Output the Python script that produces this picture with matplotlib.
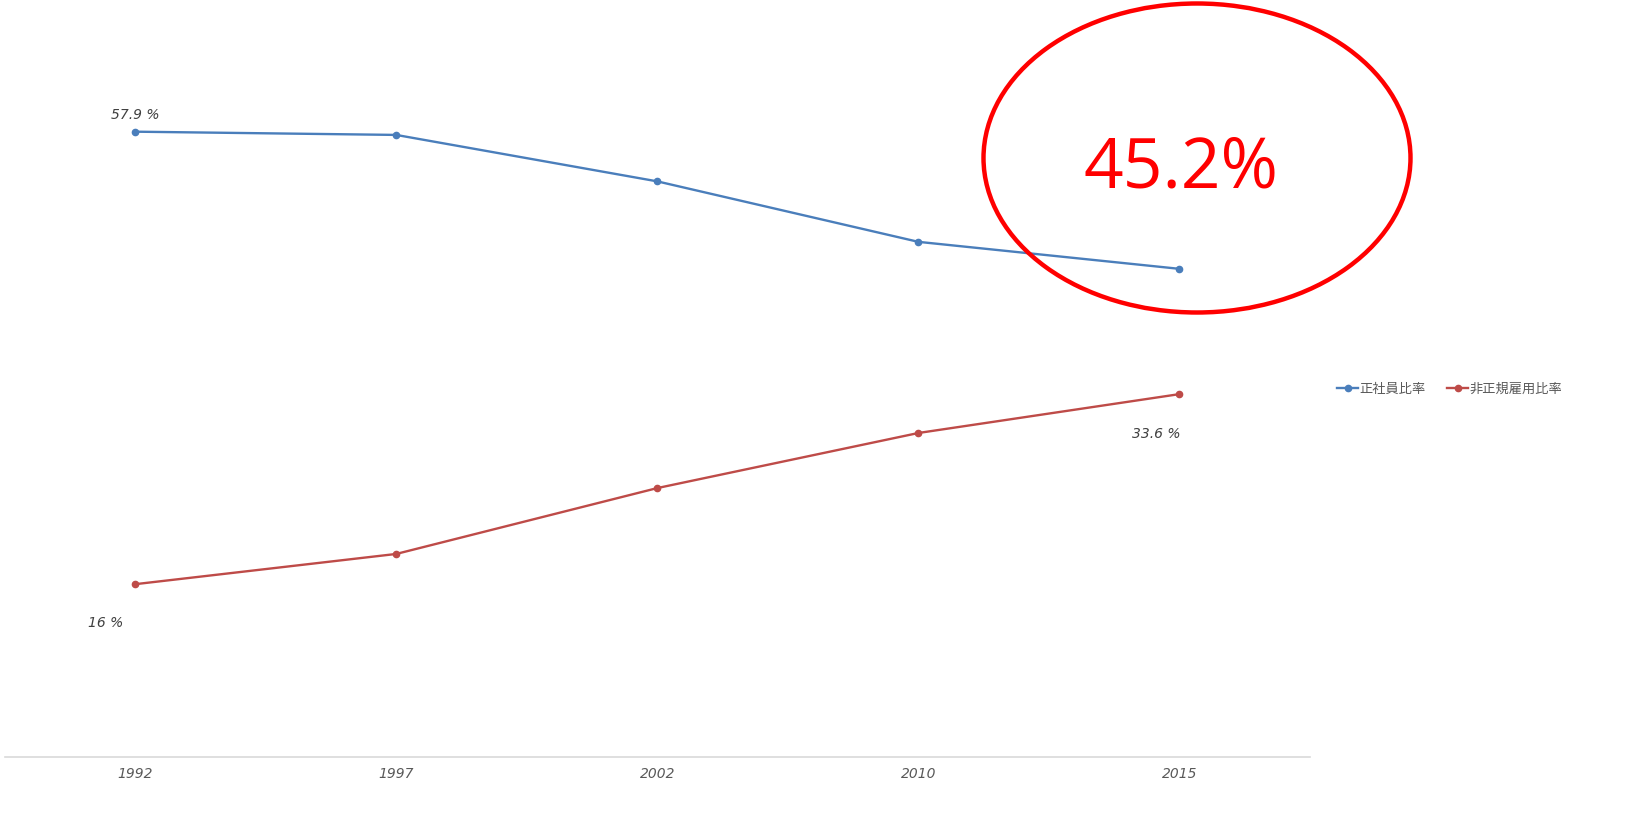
from matplotlib import pyplot as plt
from matplotlib.patches import Ellipse
import numpy as np

years = ["1992", "1997", "2002", "2010", "2015"]
regular = [57.9, 57.6, 53.3, 47.7, 45.2]
nonregular = [16.0, 18.8, 24.9, 30.0, 33.6]
series_names = ["正社員比率", "非正規雇用比率"]
highlight = "45.2%"

blue = "#4A7EBB"
red = "#BE4B48"
grey = "#595959"

plt.rcParams['font.family'] = ['Noto Sans CJK JP', 'DejaVu Sans']

fig = plt.figure(figsize=(16.41, 8.25), dpi=100)
ax = fig.add_axes([4.5/1641, 68/825, (1310-4.5)/1641, 756/825])

x = np.arange(len(years))
ax.plot(x, regular, color=blue, linewidth=1.7, marker="o", markersize=4.5, label=series_names[0])
ax.plot(x, nonregular, color=red, linewidth=1.7, marker="o", markersize=4.5, label=series_names[1])

ax.set_xlim(-0.5, len(years) - 0.5)
ax.set_ylim(0, 70)
ax.set_yticks([])
ax.set_xticks(x)
ax.set_xticklabels(years, fontstyle="italic", color=grey, fontsize=10, family="DejaVu Sans")
ax.tick_params(axis="x", length=0, pad=7)
for s in ["top", "right", "left"]:
    ax.spines[s].set_visible(False)
ax.spines["bottom"].set_color("#d9d9d9")
ax.spines["bottom"].set_linewidth(1.2)

lab_kw = dict(textcoords="offset points", fontstyle="italic", color="#404040",
              fontsize=10, family="DejaVu Sans", ha="center", va="center")
ax.annotate("%.1f %%" % regular[0], (x[0], regular[0]), xytext=(0, 12), **lab_kw)
ax.annotate("%d %%" % nonregular[0], (x[0], nonregular[0]), xytext=(-21, -28), **lab_kw)
ax.annotate("%.1f %%" % nonregular[-1], (x[-1], nonregular[-1]), xytext=(-17, -29), **lab_kw)

fig.legend(loc="center left", bbox_to_anchor=(1332/1641, 1 - 389/825), ncol=2,
           frameon=False, fontsize=9.5, labelcolor=grey, handlelength=1.6,
           handletextpad=0.1, columnspacing=1.6, borderaxespad=0)

ell = Ellipse((1197/1641, 1 - 158/825), 427/1641, 309/825, transform=fig.transFigure,
              fill=False, edgecolor="#FF0000", linewidth=3.2)
fig.add_artist(ell)
fig.text(1181/1641, 1 - 170/825, highlight, color="#FF0000", fontsize=50,
         ha="center", va="center", family="Open Sans")

fig.savefig("out.png", dpi=100)
